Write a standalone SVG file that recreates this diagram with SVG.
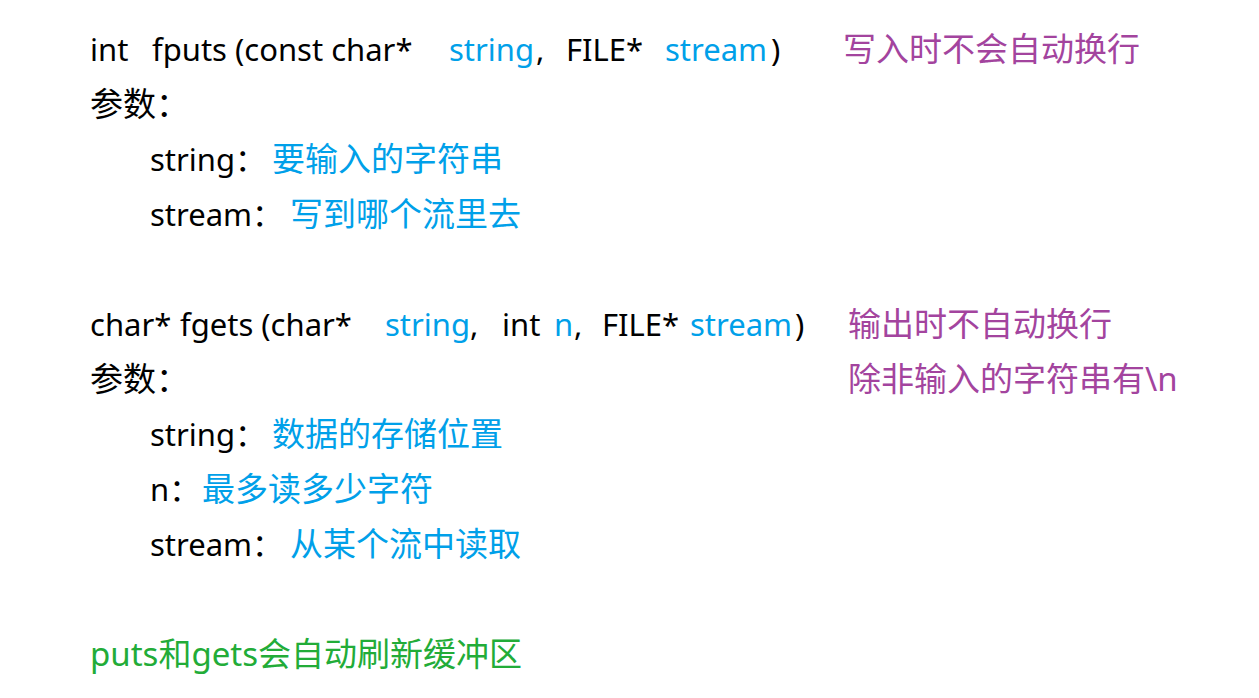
<svg xmlns="http://www.w3.org/2000/svg" width="1259" height="698" viewBox="0 0 1259 698">
<style>
text{font-family:"Noto Sans","Noto Sans CJK SC",sans-serif;font-size:31px;fill:#000}
.b{fill:#00a0e9}.p{fill:#a3449e}.g{fill:#22ac38}.c{font-size:33px}
</style>
<rect width="1259" height="698" fill="#fff"/>
<g id="fputs">
<text y="61"><tspan x="90">int</tspan><tspan x="152">fputs (const char*</tspan><tspan x="449" class="b">string</tspan><tspan x="536">,</tspan><tspan x="566">FILE*</tspan><tspan x="665" class="b">stream</tspan><tspan x="771">)</tspan></text>
<text y="61" x="843" class="p c">写入时不会自动换行</text>
<text y="116" x="90" class="c">参数：</text>
<text y="171"><tspan x="150">string：</tspan><tspan x="272" class="b c">要输入的字符串</tspan></text>
<text y="226"><tspan x="150">stream：</tspan><tspan x="290" class="b c">写到哪个流里去</tspan></text>
</g>
<g id="fgets">
<text y="336"><tspan x="90">char*</tspan><tspan x="180">fgets (char*</tspan><tspan x="385" class="b">string</tspan><tspan x="470">,</tspan><tspan x="502">int</tspan><tspan x="554" class="b">n</tspan><tspan x="574">,</tspan><tspan x="602">FILE*</tspan><tspan x="690" class="b">stream</tspan><tspan x="795">)</tspan></text>
<text y="336" x="848" class="p c">输出时不自动换行</text>
<text y="391" x="848" class="p c">除非输入的字符串有\n</text>
<text y="391" x="90" class="c">参数：</text>
<text y="446"><tspan x="150">string：</tspan><tspan x="272" class="b c">数据的存储位置</tspan></text>
<text y="501"><tspan x="150">n：</tspan><tspan x="202" class="b c">最多读多少字符</tspan></text>
<text y="556"><tspan x="150">stream：</tspan><tspan x="290" class="b c">从某个流中读取</tspan></text>
</g>
<g id="note"><text y="666" x="90" class="g c">puts和gets会自动刷新缓冲区</text></g>
<g id="connectors"/>
</svg>
